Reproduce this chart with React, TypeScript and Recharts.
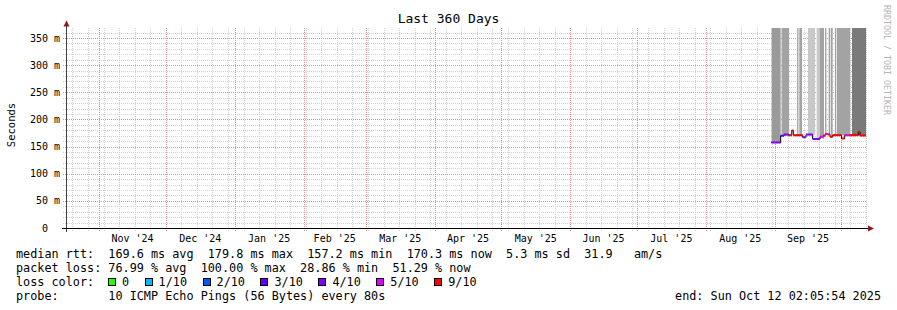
import React from "react";
import { ComposedChart, Area, Line, XAxis, YAxis } from "recharts";

const MONO = "'DejaVu Sans Mono', monospace";

// time frame: last 360 days ending Sun Oct 12 02:05:54 2025
const END = Date.UTC(2025, 9, 12, 2, 5, 54);
const SPAN_DAYS = 360;
const START = END - SPAN_DAYS * 864e5;
const dayOf = (ms: number) => (ms - START) / 864e5;

const xLabels = ["Nov '24", "Dec '24", "Jan '25", "Feb '25", "Mar '25", "Apr '25", "May '25", "Jun '25", "Jul '25", "Aug '25", "Sep '25"];
const monthStarts = Array.from({ length: xLabels.length + 1 }, (_, i) => dayOf(Date.UTC(2024, 10 + i, 1)));
const tickDays = xLabels.map((_, i) => (monthStarts[i] + monthStarts[i + 1]) / 2);
const weekDays: number[] = [];
for (let d = dayOf(Date.UTC(2024, 9, 20)); d < SPAN_DAYS; d += 7) weekDays.push(d);

const yTicks = [0, 50, 100, 150, 200, 250, 300, 350];
const yMinor = [10, 20, 30, 40, 60, 70, 80, 90, 110, 120, 130, 140, 160, 170, 180, 190, 210, 220, 230, 240, 260, 270, 280, 290, 310, 320, 330, 340, 360];
const Y_TOP = 368.4;

// loss colours
const lossLabels = ["0", "1/10", "2/10", "3/10", "4/10", "5/10", "9/10"];
const lossColors = ["#26ff00", "#00b8ff", "#0059ff", "#5e00ff", "#7e00ff", "#dd00ff", "#ff0000"];

// median rtt (ms), one step per segment, loss = index into lossColors
const medianStart = [317.4, 321.6, 323.1, 325.2, 326.6, 327.3, 331.5, 333.0, 336.0, 339.3, 340.8, 341.6, 343.0, 343.8, 345.0, 349.0, 350.4, 352.8, 356.5, 357.3];
const medianMs = [157.5, 170, 172, 171, 179.8, 171, 167, 172, 164, 168, 170, 173, 172, 168, 171, 165, 171, 171, 177, 170.3];
const medianLoss = [4, 3, 4, 6, 6, 6, 4, 4, 4, 5, 6, 5, 6, 6, 6, 6, 5, 6, 6, 6];

// smoke (ping spread)
const smokeColors = ["#c8c8c8", "#a3a3a3", "#9a9a9a", "#7a7a7a"];
const smokeStart = [317.5, 322.0, 329.0, 330.0, 333.9, 337.8, 339.3, 341.6, 343.2, 344.1, 346.0, 346.9, 353.7];
const smokeEnd = [321.6, 325.4, 329.6, 331.2, 337.1, 339.3, 341.1, 342.2, 343.8, 345.0, 346.6, 352.9, 360.0];
const smokeShade = [2, 1, 1, 1, 0, 0, 1, 1, 1, 1, 1, 1, 3];
const smokeLowMs = [157, 170, 171, 171, 171, 164, 165, 172, 172, 168, 171, 171, 170];

const segEnd = (i: number) => (i + 1 < medianStart.length ? medianStart[i + 1] : SPAN_DAYS);

const medianSteps = [
  ...medianStart.map((d, i) => ({ d, v: medianMs[i] })),
  { d: SPAN_DAYS, v: medianMs[medianMs.length - 1] },
];

const lossSeries = lossColors.map((_, b) => {
  const rows: { d: number; v: number | null }[] = [];
  medianStart.forEach((d, i) => {
    if (medianLoss[i] !== b) return;
    rows.push({ d, v: medianMs[i] }, { d: segEnd(i), v: medianMs[i] }, { d: segEnd(i), v: null });
  });
  return rows;
});

const smokeSeries = smokeColors.map((_, s) => {
  const rows: { d: number; r: number[] | null }[] = [];
  smokeStart.forEach((d, i) => {
    if (smokeShade[i] !== s) return;
    rows.push({ d, r: [smokeLowMs[i], Y_TOP] }, { d: smokeEnd[i], r: [smokeLowMs[i], Y_TOP] }, { d: smokeEnd[i], r: null });
  });
  return rows;
});

const W = 897;
const H = 310;
const PLOT = { left: 66, top: 28, width: 800, height: 200 };
const MINOR = "#d0d0d0";
const MAJOR = "#ec8c8c";

const YTick = (props: any) => {
  const { x, y, payload } = props;
  const v = payload.value;
  return (
    <text x={v === 0 ? x - 12 : x} y={y} dy="0.355em" textAnchor="end" fontSize={10} fontFamily={MONO} fill="#000">
      {v === 0 ? "0" : `${v} m`}
    </text>
  );
};

// same linear mapping as the chart's axes, used for the background grid
const px = (d: number) => Math.round(PLOT.left + (d / SPAN_DAYS) * PLOT.width) + 0.5;
const py = (v: number) => Math.round(PLOT.top + PLOT.height - (v / Y_TOP) * PLOT.height) + 0.5;

const Grid = () => {
  const bottom = PLOT.top + PLOT.height;
  const right = PLOT.left + PLOT.width;
  const dash = "1 1";
  return (
    <svg width={W} height={H} style={{ position: "absolute", left: 0, top: 0 }} shapeRendering="crispEdges">
      {yMinor.map((v) => (
        <line key={"h" + v} x1={PLOT.left - 3} x2={right} y1={py(v)} y2={py(v)} stroke={MINOR} strokeDasharray={dash} />
      ))}
      {weekDays.map((d) => (
        <line key={"v" + d} x1={px(d)} x2={px(d)} y1={PLOT.top} y2={bottom + 3} stroke={MINOR} strokeDasharray={dash} />
      ))}
      {yTicks.filter((v) => v > 0).map((v) => (
        <line key={"H" + v} x1={PLOT.left - 3} x2={right} y1={py(v)} y2={py(v)} stroke={MAJOR} strokeDasharray={dash} />
      ))}
      {monthStarts.map((d) => (
        <line key={"V" + d} x1={px(d)} x2={px(d)} y1={PLOT.top} y2={bottom + 3} stroke={MAJOR} strokeDasharray={dash} />
      ))}
    </svg>
  );
};

const Decor = () => {
  const bottom = PLOT.top + PLOT.height;
  const right = PLOT.left + PLOT.width;
  return (
    <svg width={W} height={H} style={{ position: "absolute", left: 0, top: 0, pointerEvents: "none" }}>
      <text x={W / 2} y={23} textAnchor="middle" fontSize={13} fontFamily={MONO} fill="#000">Last 360 Days</text>
      <text transform="translate(15,125) rotate(-90)" textAnchor="middle" fontSize={10.5} fontFamily={MONO} fill="#000">Seconds</text>
      <text transform="translate(884,5) rotate(90)" fontSize={8.3} fontFamily={MONO} fill="#b4b4b4">RRDTOOL / TOBI OETIKER</text>
      <g shapeRendering="crispEdges">
        <line x1={PLOT.left + 0.5} x2={PLOT.left + 0.5} y1={bottom + 4} y2={PLOT.top - 3} stroke="#444" />
        <line x1={PLOT.left - 4} x2={right + 2} y1={bottom + 0.5} y2={bottom + 0.5} stroke="#000" />
      </g>
      <polygon points={`${PLOT.left - 2.5},${PLOT.top - 1.5} ${PLOT.left + 3.5},${PLOT.top - 1.5} ${PLOT.left + 0.5},${PLOT.top - 7.5}`} fill="#8b1a1a" />
      <polygon points={`${right + 2},${bottom - 2.5} ${right + 2},${bottom + 3.5} ${right + 8},${bottom + 0.5}`} fill="#8b1a1a" />
    </svg>
  );
};

const textLine: React.CSSProperties = {
  position: "absolute",
  left: 16,
  fontFamily: MONO,
  fontSize: 11.8,
  lineHeight: "14px",
  whiteSpace: "pre",
  color: "#000",
};

export default function App() {
  return (
    <div style={{ position: "absolute", left: 0, top: 0, width: W, height: H, background: "#fff" }}>
      <Grid />
      <div style={{ position: "absolute", left: 0, top: 0 }}>
        <ComposedChart width={W} height={H} margin={{ top: PLOT.top, right: W - PLOT.left - PLOT.width, bottom: H - PLOT.top - PLOT.height - 20, left: 0 }}>
          <XAxis
            type="number"
            dataKey="d"
            domain={[0, SPAN_DAYS]}
            allowDataOverflow
            ticks={tickDays}
            interval={0}
            tickFormatter={(_v: number, i: number) => xLabels[i]}
            axisLine={false}
            tickLine={false}
            tickSize={0}
            tickMargin={7}
            height={20}
            tick={{ fontSize: 10, fill: "#000", fontFamily: MONO }}
          />
          <YAxis
            type="number"
            domain={[0, Y_TOP]}
            allowDataOverflow
            ticks={yTicks}
            interval={0}
            width={PLOT.left}
            axisLine={false}
            tickLine={false}
            tickSize={0}
            tickMargin={6}
            tick={<YTick />}
          />
          {smokeSeries.map((rows, s) =>
            rows.length ? (
              <Area
                key={"s" + s}
                data={rows}
                dataKey="r"
                type="linear"
                stroke="none"
                fill={smokeColors[s]}
                fillOpacity={1}
                connectNulls={false}
                dot={false}
                activeDot={false}
                isAnimationActive={false}
              />
            ) : null
          )}
          <Line data={medianSteps} dataKey="v" type="stepAfter" stroke="#000" strokeWidth={1} dot={false} activeDot={false} isAnimationActive={false} />
          {lossSeries.map((rows, b) =>
            rows.length ? (
              <Line
                key={"l" + b}
                data={rows}
                dataKey="v"
                type="linear"
                stroke={lossColors[b]}
                strokeWidth={2}
                connectNulls={false}
                dot={false}
                activeDot={false}
                isAnimationActive={false}
              />
            ) : null
          )}
        </ComposedChart>
      </div>
      <Decor />
      <div style={{ ...textLine, top: 247 }}>median rtt:  169.6 ms avg  179.8 ms max  157.2 ms min  170.3 ms now  5.3 ms sd  31.9   am/s</div>
      <div style={{ ...textLine, top: 261 }}>packet loss: 76.99 % avg  100.00 % max  28.86 % min  51.29 % now</div>
      <div style={{ ...textLine, top: 275, display: "flex", alignItems: "center" }}>
        <span style={{ width: 92 }}>loss color:</span>
        {lossLabels.map((l, i) => (
          <span key={l} style={{ display: "inline-flex", alignItems: "center", marginRight: 15.5 }}>
            <span style={{ width: 8, height: 8, boxSizing: "border-box", border: "1px solid #000", background: lossColors[i], marginRight: 6 }} />
            {l}
          </span>
        ))}
      </div>
      <div style={{ ...textLine, top: 289 }}>probe:       10 ICMP Echo Pings (56 Bytes) every 80s</div>
      <div style={{ ...textLine, top: 289, left: "auto", right: 16 }}>end: Sun Oct 12 02:05:54 2025</div>
    </div>
  );
}
